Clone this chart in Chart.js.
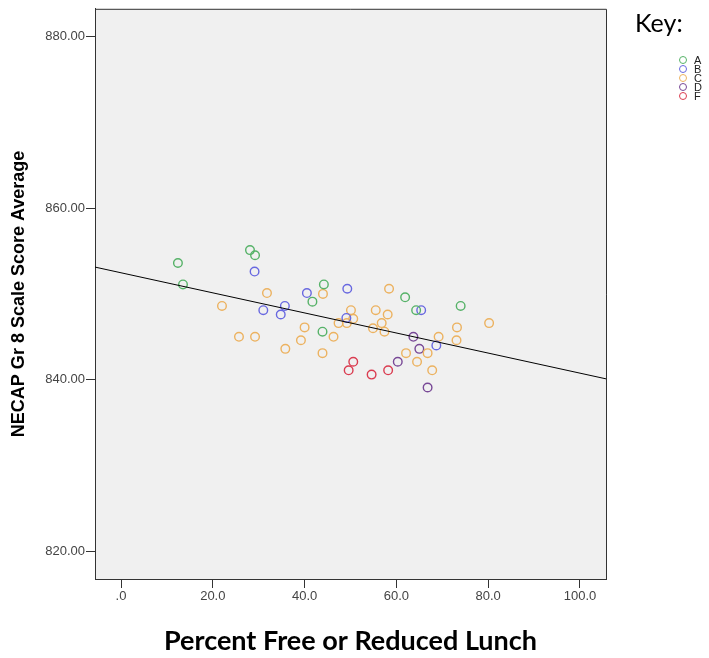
<!DOCTYPE html>
<html>
<head>
<meta charset="utf-8">
<script src="https://cdn.jsdelivr.net/npm/chart.js@4.4.0/dist/chart.umd.min.js"></script>
<style>
  html, body { margin: 0; padding: 0; background: #fff; }
  #wrap { position: relative; width: 709px; height: 658px; }
  #key { position: absolute; left: 635px; top: 7px; font: 25px Lato, sans-serif; color: #000; }
  #legend { position: absolute; left: 679px; top: 56px; font: 11px "Liberation Sans", Arial, sans-serif; color: #222; }
  .item { height: 8.9px; display: flex; align-items: center; }
  .dot { width: 6px; height: 6px; border: 1.3px solid; border-radius: 50%; margin-right: 7px; }
</style>
</head>
<body>
<div id="wrap">
  <canvas id="myChart" width="709" height="658"></canvas>
  <div id="key">Key:</div>
  <div id="legend"></div>
</div>
<script>
"use strict";

// tick labels
const xTicks = [0, 20, 40, 60, 80, 100];
const yTicks = [820, 840, 860, 880];

// groups (school grade)
const groups = ["A", "B", "C", "D", "F"];
const groupColors = ["rgb(86,178,104)", "rgb(104,104,224)", "rgb(236,178,96)", "rgb(120,72,150)", "rgb(218,60,80)"];

// percent free/reduced lunch and score per group
const aPct = [12.4, 13.5, 28.1, 29.2, 44.2, 41.7, 43.9, 61.9, 64.3, 74.0];
const aScore = [853.6, 851.1, 855.1, 854.5, 851.1, 849.1, 845.6, 849.6, 848.1, 848.6];

const bPct = [29.1, 31.0, 35.7, 34.8, 40.5, 49.3, 49.1, 65.4, 68.7];
const bScore = [852.6, 848.1, 848.6, 847.6, 850.1, 850.6, 847.2, 848.1, 844.0];

const cPct = [22.0, 31.8, 44.0, 40.0, 39.2, 25.7, 29.2, 35.8, 43.9, 58.4, 80.2, 50.1, 55.5, 58.1,
    50.6, 47.4, 49.2, 56.8, 54.9, 57.4, 46.3, 69.2, 73.2, 73.1, 62.1, 66.8, 64.5, 67.8];
const cScore = [848.6, 850.1, 850.0, 846.1, 844.6, 845.0, 845.0, 843.6, 843.1, 850.6, 846.6, 848.1, 848.1, 847.6,
    847.1, 846.6, 846.6, 846.6, 846.0, 845.6, 845.0, 845.0, 846.1, 844.6, 843.1, 843.1, 842.1, 841.1];

const dPct = [63.7, 65.0, 60.3, 66.8];
const dScore = [845.0, 843.6, 842.1, 839.1];

const fPct = [50.6, 49.6, 54.6, 58.2];
const fScore = [842.1, 841.1, 840.6, 841.1];

// linear fit line
const fitIntercept = 852.46;
const fitSlope = -0.1169;

// axis ranges
const xMin = -5.67, xMax = 105.67;
const yMin = 816.8, yMax = 883.2;

const allPct = [aPct, bPct, cPct, dPct, fPct];
const allScore = [aScore, bScore, cScore, dScore, fScore];

const scatterSets = groups.map((g, i) => ({
    type: "scatter",
    label: g,
    data: allPct[i].map((p, j) => ({ x: p, y: allScore[i][j] })),
    borderColor: groupColors[i],
    backgroundColor: "transparent",
    pointStyle: "circle",
    pointRadius: 4.3,
    pointHoverRadius: 4.3,
    borderWidth: 1.4,
    order: 1
}));

const fitSet = {
    type: "line",
    label: "fit",
    data: [xMin, xMax].map(x => ({ x: x, y: fitIntercept + fitSlope * x })),
    borderColor: "#000",
    borderWidth: 1,
    pointRadius: 0,
    fill: false,
    order: 0
};

const plotBox = {
    id: "plotBox",
    beforeDraw(chart) {
        const a = chart.chartArea;
        const ctx = chart.ctx;
        ctx.save();
        ctx.fillStyle = "#f0f0f0";
        ctx.fillRect(a.left, a.top, a.right - a.left, a.bottom - a.top);
        ctx.restore();
    },
    afterDraw(chart) {
        const a = chart.chartArea;
        const ctx = chart.ctx;
        ctx.save();
        ctx.strokeStyle = "#333";
        ctx.lineWidth = 1;
        ctx.beginPath();
        ctx.moveTo(a.left, a.top + 0.5);
        ctx.lineTo(a.right + 0.5, a.top + 0.5);
        ctx.lineTo(a.right + 0.5, a.bottom);
        ctx.stroke();
        ctx.restore();
    }
};

const axisFont = { family: "'Liberation Sans', Arial, sans-serif", size: 13 };

new Chart(document.getElementById("myChart"), {
    data: { datasets: [fitSet, ...scatterSets] },
    options: {
        responsive: false,
        animation: false,
        layout: { padding: { top: 7, right: 103, left: 0, bottom: 0 } },
        plugins: { legend: { display: false }, tooltip: { enabled: false } },
        scales: {
            x: {
                type: "linear",
                min: xMin,
                max: xMax,
                afterBuildTicks: s => { s.ticks = xTicks.map(v => ({ value: v })); },
                afterFit: s => { s.height = 79; },
                grid: { display: true, drawOnChartArea: false, drawTicks: true, tickLength: 9, color: "#333" },
                border: { display: true, color: "#333" },
                ticks: {
                    padding: 1,
                    color: "#444",
                    font: axisFont,
                    maxRotation: 0,
                    autoSkip: false,
                    callback: v => v === 0 ? ".0" : v.toFixed(1)
                },
                title: {
                    display: true,
                    text: "Percent Free or Reduced Lunch",
                    color: "#000",
                    font: { family: "Lato, sans-serif", size: 27, weight: "bold" },
                    padding: { top: 0, bottom: 1 }
                }
            },
            y: {
                type: "linear",
                min: yMin,
                max: yMax,
                afterBuildTicks: s => { s.ticks = yTicks.map(v => ({ value: v })); },
                afterFit: s => { s.width = 95; },
                grid: { display: true, drawOnChartArea: false, drawTicks: true, tickLength: 9, color: "#333" },
                border: { display: true, color: "#333" },
                ticks: {
                    padding: 1,
                    color: "#444",
                    font: axisFont,
                    callback: v => v.toFixed(2)
                },
                title: {
                    display: true,
                    text: "NECAP Gr 8 Scale Score Average",
                    color: "#000",
                    font: { family: "'Liberation Sans', Arial, sans-serif", size: 18, weight: "bold" },
                    padding: { top: 8, bottom: 0 }
                }
            }
        }
    },
    plugins: [plotBox]
});

// key
const legendDiv = document.getElementById("legend");
groups.forEach((g, i) => {
    const item = document.createElement("div");
    item.className = "item";
    item.innerHTML = `<span class="dot" style="border-color:${groupColors[i]}"></span><span>${g}</span>`;
    legendDiv.appendChild(item);
});
</script>
</body>
</html>
